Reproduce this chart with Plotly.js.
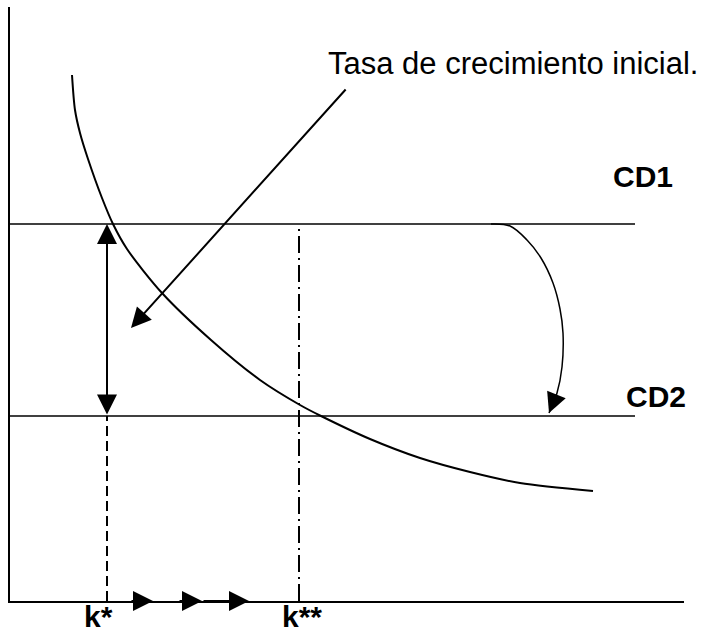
<!DOCTYPE html>
<html>
<head>
<meta charset="utf-8">
<script src="https://cdn.plot.ly/plotly-3.0.1.min.js"></script>
<style>html,body{margin:0;padding:0;background:#fff;}#chart{width:707px;height:629px;}</style>
</head>
<body>
<div id="chart"></div>
<script>
// ---- data (schematic units: origin at the axes corner) ----
const curveX = [62, 65, 70, 78, 92, 103, 117, 152, 201, 250, 290, 311, 360, 410, 460, 510, 583];
const curveY = [526, 491, 468, 442, 403, 377, 352, 308, 261, 221, 196, 185, 162, 143, 129, 118, 110];

const cd1Level = 377;
const cd2Level = 185;
const cdLineEnd = 625;

const kStar = 97;
const kStarStar = 289;

const shiftTails = [120, 168, 192];
const shiftTips  = [143, 192, 239];

const pointerFrom = [337, 513];
const pointerTo   = [121, 273];

const bendX = [481, 500, 517, 531, 543, 550, 553, 552, 547, 539];
const bendY = [377, 375, 361, 343, 318, 292, 268, 234, 208, 188];

const labelTexts = ['CD1', 'CD2', 'k*', 'k**'];
const labelX = [633, 646, 88, 292];
const labelY = [425, 205, 0, 0];
const noteText = 'Tasa de crecimiento inicial.';
const noteX = 316, noteY = 538;

const xMax = 674, yMax = 594;

// ---- traces ----
const black = '#000';
const traces = [
  {x: [0, cdLineEnd], y: [cd1Level, cd1Level], mode: 'lines', line: {color: black, width: 1.5}},
  {x: [0, cdLineEnd], y: [cd2Level, cd2Level], mode: 'lines', line: {color: black, width: 1.5}},
  {x: [kStar, kStar], y: [0, cd2Level], mode: 'lines', line: {color: black, width: 2, dash: '10px,5px'}},
  {x: [kStarStar, kStarStar], y: [0, cd1Level], mode: 'lines', line: {color: black, width: 2, dash: '17px,5px,2px,5px'}},
  {x: curveX, y: curveY, mode: 'lines', line: {color: black, width: 2, shape: 'spline', smoothing: 0.8}},
  {x: bendX, y: bendY, mode: 'lines', line: {color: black, width: 1.5, shape: 'spline', smoothing: 1}}
];

// ---- annotations ----
const headSize = 2.0;
const arrowBase = {xref: 'x', yref: 'y', axref: 'x', ayref: 'y', text: '', showarrow: true,
  arrowhead: 2, arrowsize: headSize, arrowwidth: 2, arrowcolor: black, standoff: 0, startstandoff: 0};

const annotations = [];
// double arrow between CD1 and CD2 at k*
annotations.push(Object.assign({}, arrowBase, {x: kStar, y: cd1Level, ax: kStar, ay: cd2Level, arrowside: 'end+start', startarrowhead: 2, startarrowsize: headSize}));
// pointer from note
annotations.push(Object.assign({}, arrowBase, {x: pointerTo[0], y: pointerTo[1], ax: pointerFrom[0], ay: pointerFrom[1]}));
// arrowhead of the bend arrow
const nB = bendX.length;
annotations.push(Object.assign({}, arrowBase, {arrowwidth: 1.5, arrowsize: headSize * 4 / 3, x: bendX[nB-1], y: bendY[nB-1], ax: bendX[nB-2], ay: bendY[nB-2]}));
// shift arrows on the x-axis
for (let i = 0; i < shiftTips.length; i++) {
  annotations.push(Object.assign({}, arrowBase, {x: shiftTips[i], y: 0, ax: shiftTails[i], ay: 0}));
}
// labels
const boldFont = {family: 'Liberation Sans, Arial, sans-serif', size: 30, color: black, weight: 700};
annotations.push({xref: 'x', yref: 'y', x: labelX[0], y: labelY[0], text: labelTexts[0], showarrow: false, font: boldFont, xanchor: 'center', yanchor: 'middle'});
annotations.push({xref: 'x', yref: 'y', x: labelX[1], y: labelY[1], text: labelTexts[1], showarrow: false, font: boldFont, xanchor: 'center', yanchor: 'middle'});
annotations.push({xref: 'x', yref: 'y', x: labelX[2], y: labelY[2], text: labelTexts[2], showarrow: false, font: boldFont, xanchor: 'center', yanchor: 'top', yshift: 3});
annotations.push({xref: 'x', yref: 'y', x: labelX[3], y: labelY[3], text: labelTexts[3], showarrow: false, font: boldFont, xanchor: 'center', yanchor: 'top', yshift: 3});
annotations.push({xref: 'x', yref: 'y', x: noteX, y: noteY, text: noteText, showarrow: false,
  font: {family: 'Liberation Sans, Arial, sans-serif', size: 31, color: black}, xanchor: 'left', yanchor: 'middle'});

const layout = {
  width: 707, height: 629,
  margin: {l: 10, r: 23, t: 7, b: 28, pad: 0},
  paper_bgcolor: '#fff', plot_bgcolor: '#fff',
  showlegend: false,
  xaxis: {range: [0, xMax], showline: true, linewidth: 2, linecolor: black, showgrid: false, zeroline: false, showticklabels: false, ticks: ''},
  yaxis: {range: [0, yMax], showline: true, linewidth: 2, linecolor: black, showgrid: false, zeroline: false, showticklabels: false, ticks: ''},
  annotations: annotations
};

Plotly.newPlot('chart', traces, layout, {staticPlot: true, displayModeBar: false});
</script>
</body>
</html>
